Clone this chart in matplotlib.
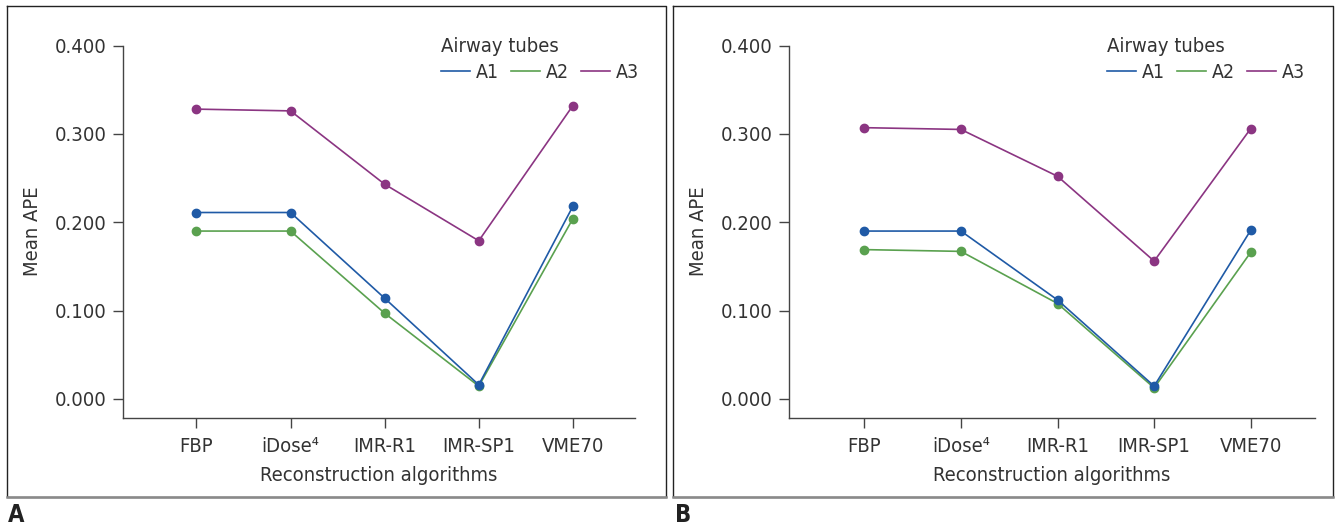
import matplotlib
matplotlib.use("Agg")
import matplotlib.pyplot as plt
from matplotlib.lines import Line2D

plt.rcParams['font.family'] = ['DejaVu Sans']
plt.rcParams['font.stretch'] = 'condensed'
plt.rcParams['font.size'] = 14.5
plt.rcParams['text.color'] = '#333333'
plt.rcParams['axes.labelcolor'] = '#333333'
plt.rcParams['xtick.color'] = '#444444'
plt.rcParams['ytick.color'] = '#444444'
plt.rcParams['xtick.labelcolor'] = '#333333'
plt.rcParams['ytick.labelcolor'] = '#333333'

algorithms = ["FBP", "iDose\u2074", "IMR-R1", "IMR-SP1", "VME70"]
tubes = ["A1", "A2", "A3"]
colors = {"A1": "#1f5aa6", "A2": "#5aa14f", "A3": "#8b3582"}

# panel A
apeA = {
    "A1": [0.211, 0.211, 0.114, 0.016, 0.218],
    "A2": [0.190, 0.190, 0.097, 0.0145, 0.204],
    "A3": [0.328, 0.326, 0.243, 0.179, 0.332],
}
# panel B
apeB = {
    "A1": [0.190, 0.190, 0.112, 0.0145, 0.191],
    "A2": [0.169, 0.167, 0.108, 0.0125, 0.166],
    "A3": [0.307, 0.305, 0.252, 0.156, 0.306],
}
yticks = [0.0, 0.1, 0.2, 0.3, 0.4]

W, H = 1338, 528
fig = plt.figure(figsize=(W / 100, H / 100), dpi=100)


def draw_panel(rect, data, letter, frame, letter_x, legend_x):
    ax = fig.add_axes(rect)
    xs = list(range(len(algorithms)))
    for t in tubes:
        ax.plot(xs, data[t], color=colors[t], lw=1.2, marker='o', ms=6,
                label=t, zorder=3 if t == "A1" else 2)
    ax.set_xlim(-0.78, 4.66)
    ax.set_ylim(-0.021, 0.4)
    ax.set_xticks(xs)
    ax.set_xticklabels(algorithms)
    ax.set_yticks(yticks)
    ax.set_yticklabels(["%.3f" % v for v in yticks])
    for s in ['top', 'right']:
        ax.spines[s].set_visible(False)
    for s in ['left', 'bottom']:
        ax.spines[s].set_color('#444444')
        ax.spines[s].set_linewidth(1.0)
    ax.spines['left'].set_bounds(-0.021, 0.4)
    ax.tick_params(axis='both', length=7, width=1.0, labelsize=14.5)
    ax.tick_params(axis='x', pad=7)
    ax.tick_params(axis='y', pad=5)
    ax.set_xlabel("Reconstruction algorithms", fontsize=14.5, labelpad=7)
    ax.set_ylabel("Mean APE", fontsize=14.5, labelpad=9)
    handles = [Line2D([0], [0], color=colors[t], lw=1.2) for t in tubes]
    fig.legend(handles, tubes, title="Airway tubes", ncol=3,
               loc='upper left', bbox_to_anchor=(legend_x / W, 1 - 37 / H),
               frameon=False, fontsize=14, title_fontsize=14.5,
               handlelength=1.5, handletextpad=0.3, columnspacing=0.6,
               borderpad=0, borderaxespad=0, alignment='left',
               labelspacing=0.35)
    # frame around the panel
    x0, y0, x1, y1 = frame
    fig.add_artist(Line2D([x0 / W, x1 / W, x1 / W, x0 / W, x0 / W],
                          [1 - y0 / H, 1 - y0 / H, 1 - y1 / H, 1 - y1 / H, 1 - y0 / H],
                          color='#222222', lw=1.0))
    fig.add_artist(Line2D([x0 / W, x1 / W], [1 - y1 / H, 1 - y1 / H],
                          color='#8a8a8a', lw=1.8))
    fig.text(letter_x / W, 1 - 515 / H, letter, fontsize=17, fontweight='bold',
             color='#222222', va='center', ha='left')
    return ax


draw_panel([123 / W, 1 - 417.5 / H, 512 / W, 372 / H], apeA, "A",
           (7, 6, 665.5, 496.5), 8, 441)
draw_panel([789 / W, 1 - 417.5 / H, 525.5 / W, 372 / H], apeB, "B",
           (673, 6, 1333, 496.5), 675, 1107)

fig.savefig("out.png", dpi=100)
